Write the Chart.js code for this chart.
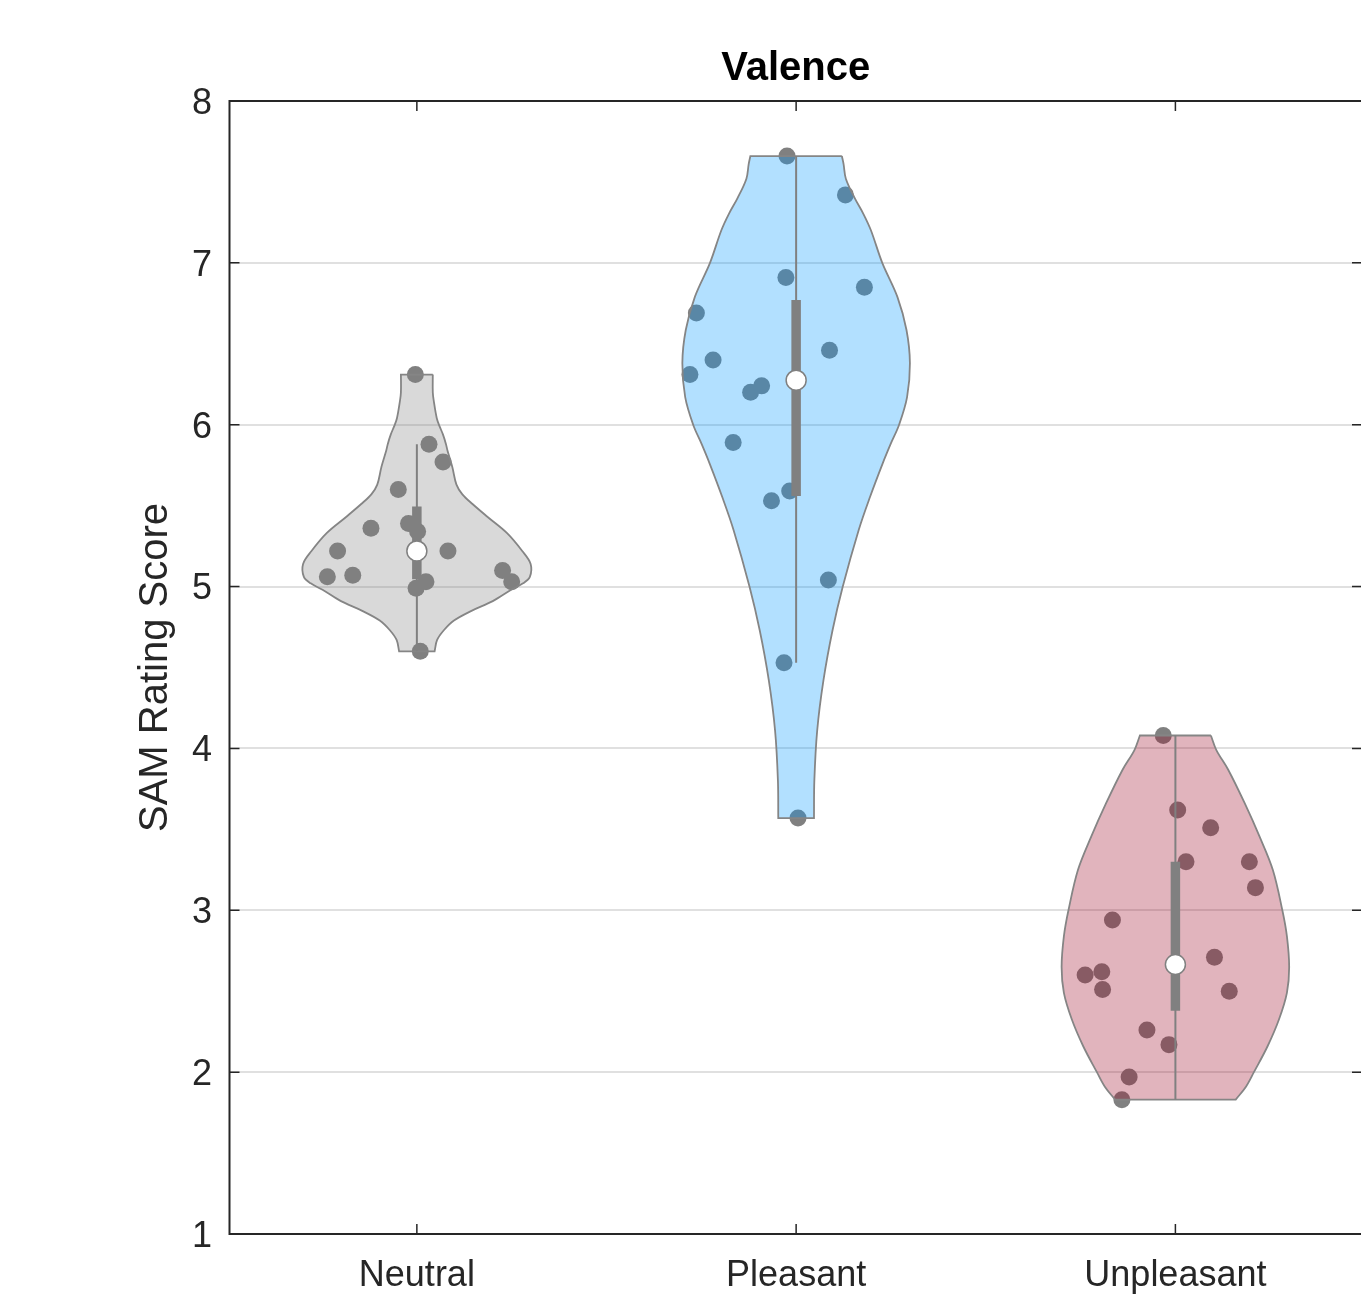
<!DOCTYPE html>
<html>
<head>
<meta charset="utf-8">
<script src="https://cdn.jsdelivr.net/npm/chart.js@4.4.1/dist/chart.umd.min.js"></script>
<style>
    html, body { margin: 0; padding: 0; background: #fff; overflow: hidden; }
    #marco { width: 1361px; height: 1297px; overflow: hidden; }
    #marco canvas { display: block; }
</style>
</head>
<body>
<div id="marco"><canvas id="grafico" width="1370" height="1297"></canvas></div>
<script>
const categorias = ["Neutral", "Pleasant", "Unpleasant"];
const posiciones = [1, 2, 3];
const yTicks = [1, 2, 3, 4, 5, 6, 7, 8];

// puntajes SAM por participante
const valNeutral = [6.31, 5.88, 5.77, 5.60, 5.36, 5.39, 5.34, 5.22, 5.22, 5.06, 5.07, 5.10, 5.03, 5.03, 4.99, 4.60];
const valPleasant = [7.66, 7.42, 6.91, 6.85, 6.69, 6.40, 6.31, 6.46, 6.24, 6.20, 5.89, 5.59, 5.53, 5.04, 4.53, 3.57];
const valUnpleasant = [4.08, 3.62, 3.51, 3.30, 3.30, 3.14, 2.94, 2.71, 2.60, 2.62, 2.51, 2.50, 2.26, 2.17, 1.97, 1.83];

// desplazamiento horizontal (jitter) de cada punto
const jitNeutral = [-0.004, 0.032, 0.069, -0.049, -0.121, -0.022, 0.002, -0.209, 0.082, -0.236, -0.169, 0.226, 0.250, 0.024, -0.002, 0.009];
const jitPleasant = [-0.024, 0.130, -0.027, 0.180, -0.263, -0.219, -0.280, 0.088, -0.091, -0.120, -0.166, -0.017, -0.065, 0.085, -0.032, 0.005];
const jitUnpleasant = [-0.032, 0.006, 0.093, 0.028, 0.195, 0.211, -0.166, 0.103, -0.238, -0.194, -0.192, 0.142, -0.075, -0.017, -0.122, -0.141];

const nivNeutral = [6.31, 6.20, 6.15, 6.04, 5.99, 5.94, 5.88, 5.84, 5.74, 5.63, 5.57, 5.51, 5.43, 5.33, 5.22, 5.14, 5.06, 5.02, 4.98, 4.91, 4.85, 4.79, 4.73, 4.67, 4.60];
const denNeutral = [0.14, 0.14, 0.148, 0.175, 0.20, 0.229, 0.256, 0.269, 0.311, 0.348, 0.40, 0.489, 0.622, 0.793, 0.926, 1.0, 0.993, 0.933, 0.829, 0.667, 0.48, 0.326, 0.237, 0.178, 0.156];
const nivPleasant = [7.66, 7.61, 7.52, 7.40, 7.30, 7.20, 7.00, 6.79, 6.585, 6.38, 6.17, 6.00, 5.88, 5.76, 5.555, 5.35, 5.00, 4.73, 4.42, 4.11, 3.80, 3.57];
const denPleasant = [0.402, 0.417, 0.437, 0.515, 0.593, 0.658, 0.757, 0.89, 0.97, 1.0, 0.975, 0.905, 0.83, 0.76, 0.65, 0.55, 0.41, 0.32, 0.24, 0.185, 0.16, 0.157];
const nivUnpleasant = [4.08, 3.99, 3.87, 3.66, 3.455, 3.25, 3.00, 2.84, 2.65, 2.49, 2.325, 2.16, 2.00, 1.91, 1.83];
const denUnpleasant = [0.312, 0.36, 0.463, 0.61, 0.74, 0.856, 0.94, 0.98, 1.0, 0.98, 0.91, 0.81, 0.69, 0.62, 0.53];

const anchoViolin = 0.3;
const grupos = [
    { val: valNeutral, jit: jitNeutral, niv: nivNeutral, den: denNeutral, color: "rgba(128, 128, 128, 0.3)" },
    { val: valPleasant, jit: jitPleasant, niv: nivPleasant, den: denPleasant, color: "rgba(0, 153, 255, 0.3)" },
    { val: valUnpleasant, jit: jitUnpleasant, niv: nivUnpleasant, den: denUnpleasant, color: "rgba(155, 5, 38, 0.3)" }
];

const gris = "#808080";
const fuente = "'Liberation Sans', Arial, Helvetica, sans-serif";

function mediana(arr) {
    const m = arr.length / 2;
    return arr.length % 2 ? arr[Math.floor(m)] : (arr[m - 1] + arr[m]) / 2;
}

function estadisticas(vals) {
    const s = [...vals].sort((a, b) => a - b);
    const n = s.length;
    const q1 = mediana(s.slice(0, Math.floor(n / 2)));
    const q3 = mediana(s.slice(Math.ceil(n / 2)));
    const iqr = q3 - q1;
    const lo = s.find(v => v >= q1 - 1.5 * iqr);
    const hi = [...s].reverse().find(v => v <= q3 + 1.5 * iqr);
    return { med: mediana(s), q1, q3, lo, hi };
}

function contorno(centro, niv, den) {
    const der = niv.map((v, i) => ({ x: centro + den[i] * anchoViolin, y: v }));
    const izq = niv.map((v, i) => ({ x: centro - den[i] * anchoViolin, y: v })).reverse();
    // las esquinas van dobles para que la curva no se pase en los bordes planos
    return [der[0], ...der, der[der.length - 1], izq[0], ...izq, izq[izq.length - 1], der[0]];
}

const datasets = [];
grupos.forEach((g, i) => {
    const c = posiciones[i];
    const est = estadisticas(g.val);

    datasets.push({
        type: "scatter",
        data: g.val.map((v, k) => ({ x: c + g.jit[k], y: v })),
        backgroundColor: gris,
        borderWidth: 0,
        pointRadius: 8.5,
        order: 5
    });
    datasets.push({
        type: "line",
        data: contorno(c, g.niv, g.den),
        borderColor: "#858585",
        borderWidth: 1.8,
        backgroundColor: g.color,
        fill: "shape",
        tension: 0.35,
        pointRadius: 0,
        order: 4
    });
    datasets.push({
        type: "line",
        data: [{ x: c, y: est.lo }, { x: c, y: est.hi }],
        borderColor: gris,
        borderWidth: 2,
        pointRadius: 0,
        fill: false,
        order: 3
    });
    datasets.push({
        type: "line",
        data: [{ x: c, y: est.q1 }, { x: c, y: est.q3 }],
        borderColor: gris,
        borderWidth: 9.5,
        borderCapStyle: "butt",
        pointRadius: 0,
        fill: false,
        order: 2
    });
    datasets.push({
        type: "scatter",
        data: [{ x: c, y: est.med }],
        backgroundColor: "#ffffff",
        borderColor: gris,
        borderWidth: 1.5,
        pointRadius: 10,
        order: 1
    });
});

// caja de ejes con marcas hacia adentro
const marcoEjes = {
    id: "marcoEjes",
    afterDatasetsDraw(chart) {
        const { ctx, chartArea: a, scales: { x, y } } = chart;
        ctx.save();
        ctx.strokeStyle = "#262626";
        ctx.lineWidth = 1.5;
        ctx.beginPath();
        yTicks.forEach(v => {
            const py = y.getPixelForValue(v);
            ctx.moveTo(a.left, py); ctx.lineTo(a.left + 10, py);
            ctx.moveTo(a.right, py); ctx.lineTo(a.right - 10, py);
        });
        posiciones.forEach(v => {
            const px = x.getPixelForValue(v);
            ctx.moveTo(px, a.bottom); ctx.lineTo(px, a.bottom - 10);
            ctx.moveTo(px, a.top); ctx.lineTo(px, a.top + 10);
        });
        ctx.stroke();
        ctx.lineWidth = 2;
        ctx.strokeRect(a.left, a.top, a.right - a.left, a.bottom - a.top);
        ctx.restore();
    }
};

Chart.defaults.font.family = fuente;
const ctx = document.getElementById("grafico").getContext("2d");
const grafico = new Chart(ctx, {
    type: "scatter",
    data: { datasets },
    plugins: [marcoEjes],
    options: {
        responsive: false,
        animation: false,
        devicePixelRatio: 1,
        events: [],
        layout: { autoPadding: false, padding: { left: 0, right: 8, top: 0, bottom: 0 } },
        plugins: {
            legend: { display: false },
            tooltip: { enabled: false },
            title: {
                display: true,
                text: "Valence",
                color: "#000000",
                fullSize: false,
                font: { size: 40, weight: "bold" },
                padding: { top: 45, bottom: 8 }
            }
        },
        scales: {
            x: {
                type: "linear",
                min: 0.506,
                max: 3.492,
                afterBuildTicks: s => { s.ticks = posiciones.map(v => ({ value: v })); },
                afterFit: s => {
                    s.height = 63;
                    s.paddingLeft = 0;
                    s.paddingRight = 0;
                },
                grid: { display: false, drawTicks: false },
                border: { display: false },
                ticks: {
                    callback: (v, i) => categorias[i],
                    font: { size: 36 },
                    color: "#262626",
                    padding: 20,
                    maxRotation: 0,
                    autoSkip: false
                }
            },
            y: {
                type: "linear",
                min: 1,
                max: 8,
                afterBuildTicks: s => { s.ticks = yTicks.map(v => ({ value: v })); },
                afterFit: s => { s.width = 229.5; },
                grid: { color: "#e0e0e0", lineWidth: 2, drawTicks: false },
                border: { display: false },
                ticks: {
                    font: { size: 36 },
                    color: "#262626",
                    padding: 17.5,
                    labelOffset: 3
                },
                title: {
                    display: true,
                    text: "SAM Rating Score",
                    color: "#262626",
                    font: { size: 40 },
                    padding: { top: 132, bottom: 0 }
                }
            }
        }
    }
});
</script>
</body>
</html>
